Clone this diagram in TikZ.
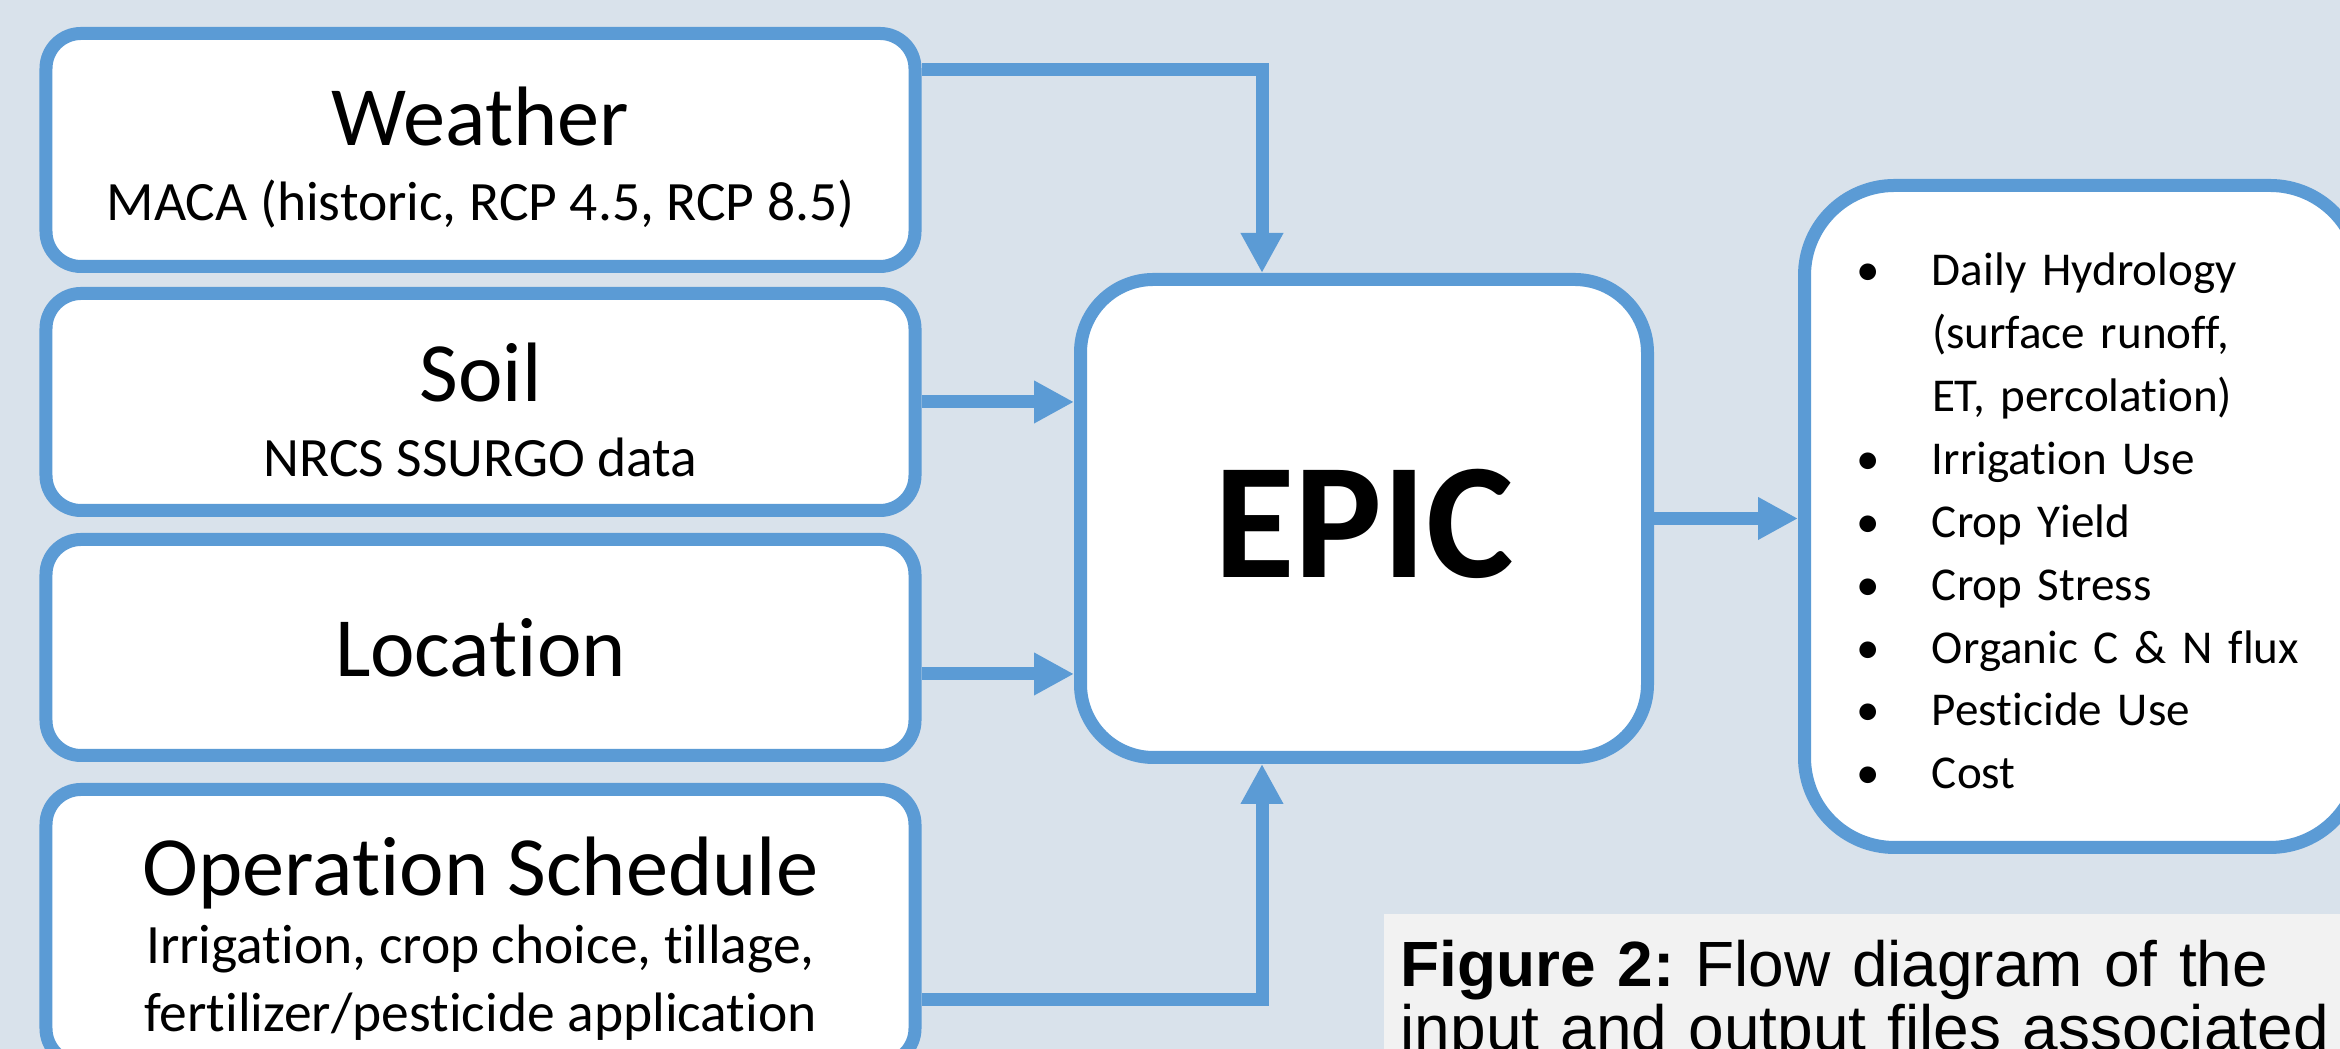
\documentclass[tikz,border=0pt]{standalone}
\usepackage{fontspec}
\setmainfont{Carlito}[Ligatures=NoCommon]
\newfontfamily\capfont{Liberation Sans}
\usetikzlibrary{arrows.meta,calc,positioning}
\definecolor{PanelBg}{HTML}{D9E2EB}
\definecolor{FlowBlue}{HTML}{5B9BD5}
\definecolor{CaptionFill}{HTML}{F2F2F2}
\newcommand{\boxtitle}{\fontsize{24}{28}\selectfont}
\newcommand{\boxsub}{\fontsize{15.8}{19.3}\selectfont}
\newcommand{\outbullet}{\makebox[8mm][l]{\hspace{0.4mm}\textbullet}}
% extra room above the first line, so the text sits a little lower
\newcommand{\padtop}[1]{\rule{0pt}{\dimexpr\fontcharht\font`h+#1\relax}}

\begin{document}
\begin{tikzpicture}[
    input/.style={
        draw=FlowBlue,
        fill=white,
        line width=1.3mm,
        rounded corners=3.5mm,
        minimum width=86.9mm,
        inner sep=0pt,
        align=center,
        font=\boxsub
    },
    model/.style={draw=FlowBlue, fill=white, line width=1.3mm,
                  rounded corners=7.3mm, minimum width=56.7mm,
                  minimum height=47.8mm, text height=11.75mm, text depth=0pt,
                  font=\fontsize{47}{52}\selectfont\bfseries},
    results/.style={draw=FlowBlue, fill=white, line width=1.3mm,
                    rounded corners=9mm, minimum height=66.2mm,
                    text width=46.05mm, inner xsep=4.75mm, align=left,
                    font=\fontsize{13.4}{17.9}\selectfont},
    flow/.style={-{Triangle[length=4mm,width=4mm]}, line width=1.3mm,
                 draw=FlowBlue},
    caption/.style={fill=CaptionFill, text width=11.5cm, inner xsep=1.7mm,
                    inner ysep=2.6mm, align=left,
                    font=\capfont\fontsize{18.2}{18.3}\selectfont\frenchspacing}
]

% Frame
\useasboundingbox (0,0) rectangle (23.4,10.49);
\clip (0,0) rectangle (23.4,10.49);
\fill[PanelBg] (0,0) rectangle (23.4,10.49);

% Inputs
\node[input, minimum height=23.3mm] (weather) at (4.805,8.99)
    {{\boxtitle\padtop{4.3pt}Weather}\\[2pt]MACA (historic, RCP 4.5, RCP 8.5)};
\node[input, minimum height=21.7mm] (soil) at (4.805,6.47)
    {{\boxtitle\padtop{4.3pt}Soil}\\[2pt]NRCS SSURGO data};
\node[input, minimum height=21.6mm, font=\boxtitle] (loc) at (4.805,4.015)
    {Location};
\node[input, minimum height=27.4mm] (op) at (4.805,1.225)
    {{\boxtitle\padtop{6.8pt}Operation Schedule}\\Irrigation, crop choice, tillage,\\
     fertilizer/pesticide application};

% Model
\node[model] (epic) at (13.64,5.305) {EPIC};

% Outputs
\node[results] (out) at (20.8225,5.325)
    {\padtop{2.6pt}\outbullet Daily Hydrology\\
     \hspace*{8mm}(surface runoff,\\
     \hspace*{8mm}ET, percolation)\\
     \outbullet Irrigation Use\\
     \outbullet Crop Yield\\
     \outbullet Crop Stress\\
     \outbullet Organic C \& N flux\\
     \outbullet Pesticide Use\\
     \outbullet Cost};

% Connectors
\coordinate (drop) at ([xshift=-10.2mm]epic.north);
\coordinate (rise) at ([xshift=-10.2mm]epic.south);
\draw[flow] ([yshift=8mm]weather.east) -| (drop);
\draw[flow] (soil.east) -- (soil.east -| epic.west);
\draw[flow] ([yshift=-2.65mm]loc.east) -- ([yshift=-2.65mm]loc.east -| epic.west);
\draw[flow] ([yshift=-7.35mm]op.east) -| (rise);
\draw[flow] (epic.east) -- (epic.east -| out.west);

% Caption
\node[caption, anchor=north west] (cap) at (13.83,1.36)
    {\textbf{Figure 2:} Flow diagram of the\\
     input and output files associated};

\end{tikzpicture}
\end{document}
